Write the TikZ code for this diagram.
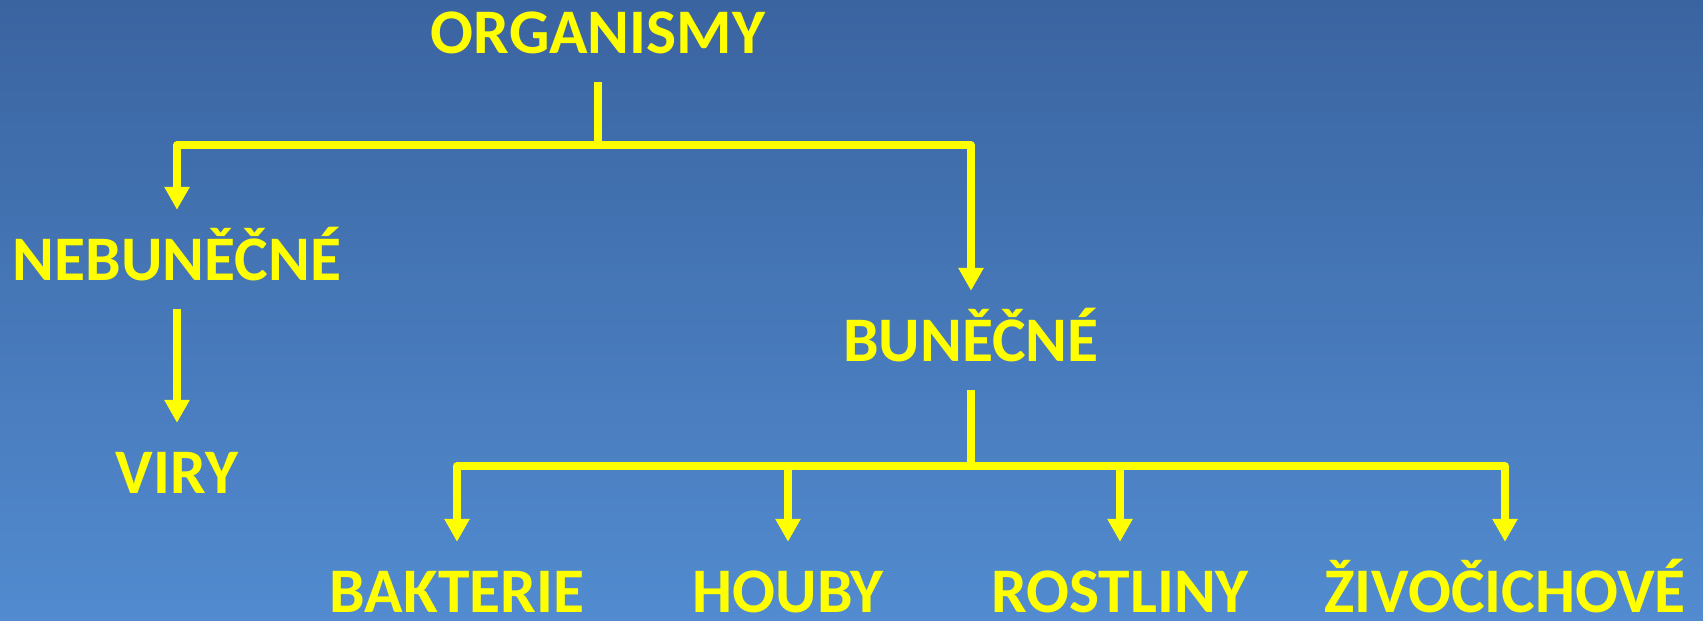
\documentclass[tikz,border=0pt]{standalone}
\usepackage{fontspec}
\setmainfont{Carlito}
\usetikzlibrary{arrows.meta}
\definecolor{bgtop}{RGB}{58,100,160}
\definecolor{bgbot}{RGB}{82,139,208}
\definecolor{yel}{RGB}{255,255,0}
\begin{document}
\begin{tikzpicture}[x=1pt,y=-1pt,
  lbl/.style={font=\fontsize{63.5}{70}\selectfont\bfseries, text=yel,
    inner xsep=0pt, inner ysep=29pt, text height=41pt, text depth=0pt, anchor=base},
  link/.style={draw=yel, line width=7.5pt, line join=round},
  tip/.style={-{Triangle[length=23pt,width=24pt]}}]
  % background
  \useasboundingbox (0,0) rectangle (1703,621);
  \shade[top color=bgtop, bottom color=bgbot] (0,0) rectangle (1703,621);

  % labels
  \node[lbl] (org) at (598,53)  {ORGANISMY};
  \node[lbl] (neb) at (177,280) {NEBUNĚČNÉ};
  \node[lbl] (vir) at (177,493) {VIRY};
  \node[lbl] (bun) at (971,361) {BUNĚČNÉ};
  \node[lbl] (bak) at (457,612) {BAKTERIE};
  \node[lbl] (hou) at (788,612) {HOUBY};
  \node[lbl] (ros) at (1120,612) {ROSTLINY};
  \node[lbl] (ziv) at (1505,612) {ŽIVOČICHOVÉ};

  % levels of the horizontal bars
  \coordinate (bar1) at (0,145);
  \coordinate (bar2) at (0,466);

  % first split
  \draw[link] (org.south) -- (org.south |- bar1);
  \draw[link,tip] (org.south |- bar1) -| (neb.north);
  \draw[link,tip] (org.south |- bar1) -| (bun.north);
  \draw[link,tip] (neb.south) -- (vir.north);

  % cellular organisms
  \draw[link] (bun.south) -- (bun.south |- bar2);
  \foreach \n in {bak,hou,ros,ziv}
    \draw[link,tip] (bun.south |- bar2) -| (\n.north);
\end{tikzpicture}
\end{document}
